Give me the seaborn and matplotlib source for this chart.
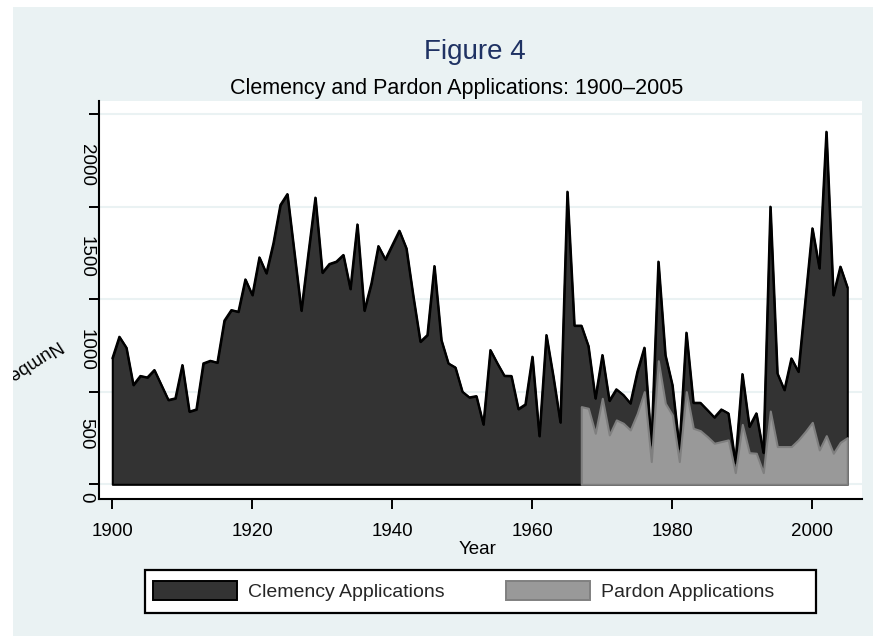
import numpy as np
import pandas as pd
import seaborn as sns
import matplotlib
matplotlib.use("Agg")
import matplotlib.pyplot as plt
from matplotlib.patches import Rectangle, Patch
from matplotlib.transforms import ScaledTranslation

# ---------------- data ----------------
years = list(range(1900, 2006))
clemency = [681, 798, 739, 537, 586, 578, 618, 537, 456, 465,
            645, 393, 405, 654, 668, 658, 885, 942, 933, 1108,
            1023, 1227, 1141, 1303, 1510, 1569, 1254, 939, 1249, 1550,
            1144, 1191, 1204, 1240, 1056, 1405, 939, 1086, 1288, 1216,
            1294, 1371, 1276, 1014, 771, 807, 1180, 780, 654, 632,
            501, 470, 477, 324, 726, 654, 587, 586, 407, 432,
            690, 261, 807, 582, 335, 1582, 858, 858, 748, 465,
            699, 452, 514, 483, 438, 609, 739, 213, 1204, 699,
            537, 195, 820, 441, 441, 402, 362, 405, 384, 117,
            596, 312, 384, 171, 1501, 600, 510, 681, 609, 996,
            1384, 1168, 1906, 1023, 1177, 1065]
pardon_years = list(range(1967, 2006))
pardon = [420, 411, 276, 465, 267, 348, 330, 294, 384, 501,
          123, 668, 438, 375, 123, 501, 303, 290, 258, 222,
          231, 240, 63, 324, 171, 168, 63, 396, 204, 204,
          204, 240, 285, 335, 186, 263, 168, 227, 252]
x_ticks = [1900, 1920, 1940, 1960, 1980, 2000]
y_ticks = [0, 500, 1000, 1500, 2000]
y_tick_labels = ["0", "500", "1000", "1500", "2000"]
series_labels = ["Clemency Applications", "Pardon Applications"]
title = "Figure 4"
subtitle = "Clemency and Pardon Applications: 1900\u20132005"

df_c = pd.DataFrame({"year": years, "value": clemency})
df_p = pd.DataFrame({"year": pardon_years, "value": pardon})

# ---------------- style ----------------
sns.set_theme(style="white")
plt.rcParams["font.family"] = ["Liberation Sans", "DejaVu Sans"]

W, H = 873, 636
fig = plt.figure(figsize=(W / 100, H / 100), dpi=100, facecolor="white")


def fx(px):
    return px / W


def fy(py):
    return 1 - py / H


BG = "#eaf2f3"
bg = Rectangle((fx(13), 0), 1 - fx(13), fy(7), transform=fig.transFigure,
               facecolor=BG, edgecolor="none", zorder=-10)
fig.patches.append(bg)

ax = fig.add_axes([fx(99), fy(499.3), fx(862) - fx(99), fy(100.7) - fy(499.3)])
ax.set_zorder(2)
ax.set_facecolor("white")

CLEM = "#333333"
PARD = "#999999"
LW = 1.5
ax.fill_between(df_c["year"], 0, df_c["value"], facecolor=CLEM,
                edgecolor="black", linewidth=LW, zorder=2)
sns.lineplot(data=df_c, x="year", y="value", ax=ax, color="black",
             linewidth=LW, zorder=2.5)
ax.fill_between(df_p["year"], 0, df_p["value"], facecolor=PARD,
                edgecolor="#7f7f7f", linewidth=LW, zorder=3)

ax.set_xlim(1898.1, 2007.1)
ax.set_ylim(-81, 2073.5)

ax.yaxis.grid(True, color=BG, linewidth=1.5)
ax.xaxis.grid(False)
ax.set_axisbelow(True)

for s in ["top", "right"]:
    ax.spines[s].set_visible(False)
for s in ["left", "bottom"]:
    ax.spines[s].set_visible(True)
    ax.spines[s].set_color("black")
    ax.spines[s].set_linewidth(1.5)

ax.set_xticks(x_ticks)
ax.set_xticklabels([str(v) for v in x_ticks])
ax.set_yticks(y_ticks)
ax.set_yticklabels(y_tick_labels)
ax.tick_params(axis="both", which="major", direction="out", length=7.2,
               width=1.4, color="black", labelsize=13.5, labelcolor="black",
               left=True, bottom=True)
ax.tick_params(axis="x", pad=10)
ax.tick_params(axis="y", pad=-4)

# rotated y tick labels with the reference's downward offsets (px)
y_label_shift = [13, 42, 51, 50, 51]
for lbl, dy in zip(ax.get_yticklabels(), y_label_shift):
    lbl.set_rotation(-90)
    lbl.set_va("center")
    lbl.set_transform(lbl.get_transform() +
                      ScaledTranslation(0, -dy / 100, fig.dpi_scale_trans))

ax.set_xlabel("Year", fontsize=13.5, color="black")
ax.xaxis.label.set_va("center")
ax.xaxis.set_label_coords((478 - 99) / (862 - 99), -(549 - 499.3) / (499.3 - 100.7))
ax.set_ylabel("")

# tilted y title (clipped at the panel edge as in the reference)
yt = fig.text(fx(61), fy(343), "Number of Applications", rotation=213,
              rotation_mode="anchor", ha="left", va="center", fontsize=13.5,
              color="black")
yt.set_clip_path(bg)

# titles
fig.text(fx(475), fy(51.7), title, ha="center", va="center", fontsize=20,
         color="#1f3263")
fig.text(fx(456.7), fy(88.3), subtitle, ha="center", va="center",
         fontsize=15.5, color="black")

# legend with frame
frame = Rectangle((fx(145), fy(613)), fx(816) - fx(145), fy(570) - fy(613),
                  transform=fig.transFigure, facecolor="white",
                  edgecolor="black", linewidth=1.6, zorder=1)
fig.patches.append(frame)
handles = [Patch(facecolor=CLEM, edgecolor="black", linewidth=1.4),
           Patch(facecolor=PARD, edgecolor="#808080", linewidth=1.4)]
fig.legend(handles, series_labels, loc="center left",
           bbox_to_anchor=(fx(153), fy(591)), bbox_transform=fig.transFigure,
           ncol=2, frameon=False, fontsize=14, handlelength=4.32,
           handleheight=1.18, handletextpad=0.57, columnspacing=3.14,
           borderpad=0, borderaxespad=0)

fig.savefig("out.png", dpi=100, facecolor="white")
